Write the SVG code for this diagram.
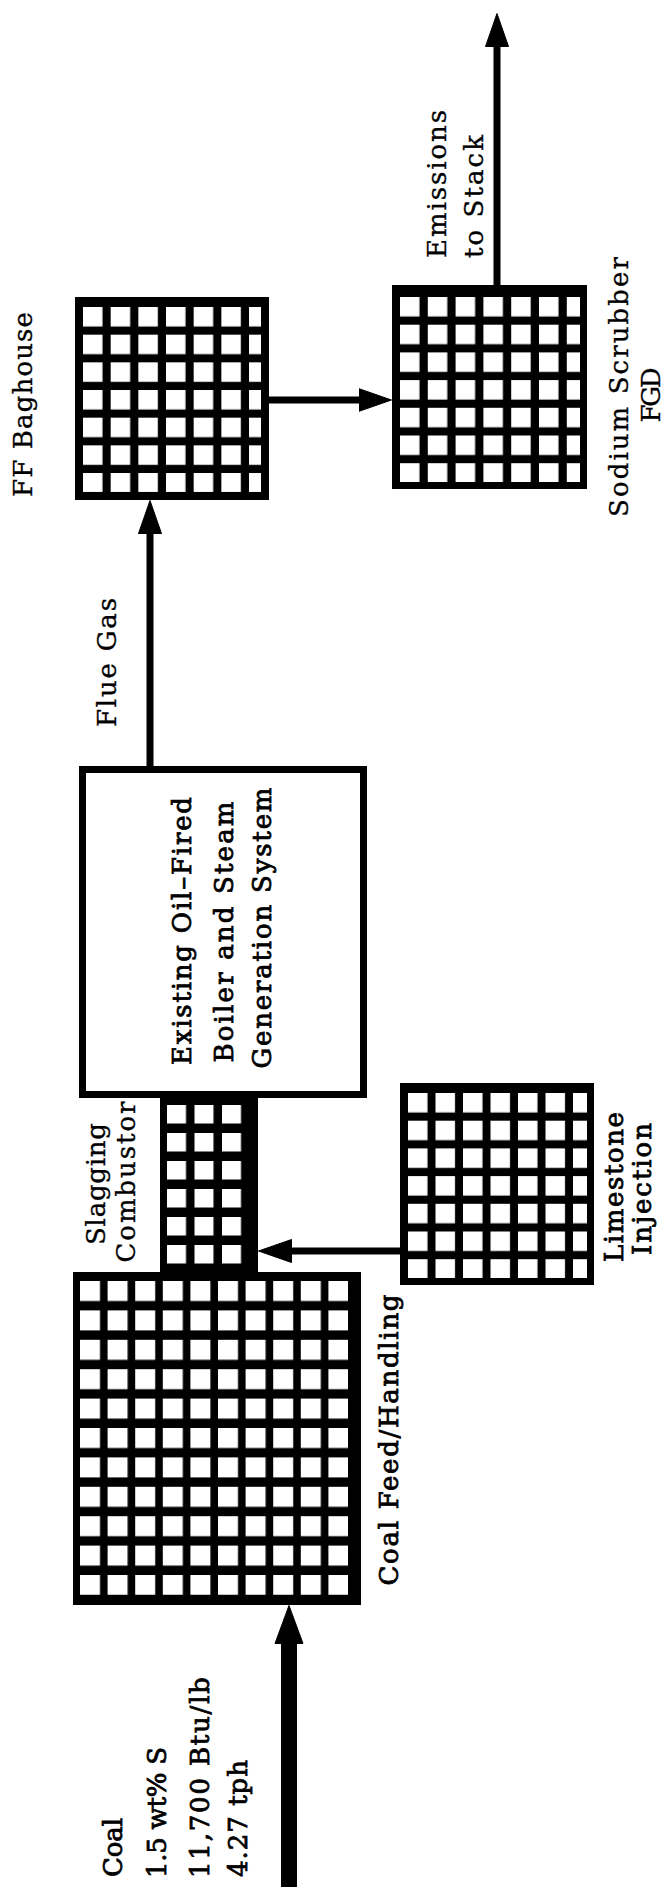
<svg xmlns="http://www.w3.org/2000/svg" width="664" height="1887" viewBox="0 0 664 1887">
<style>
.box{fill:#000}
.t{font-family:"DejaVu Serif","Liberation Serif",serif;font-size:26px;fill:#000;stroke:#000;stroke-width:0.35}
.h{stroke-width:0.8}
.ln{fill:none;stroke:#000;stroke-width:7}
</style>
<defs>
<marker id="ah" markerUnits="userSpaceOnUse" markerWidth="34" markerHeight="24" viewBox="0 0 34 24" refX="0.5" refY="12" orient="auto"><path d="M0,0.5 L33,12 L0,23.5 Z" fill="#000" stroke="#000" stroke-width="1" stroke-linejoin="round"/></marker>
<marker id="ahc" markerUnits="userSpaceOnUse" markerWidth="39" markerHeight="30" viewBox="0 0 39 30" refX="0.5" refY="15" orient="auto"><path d="M0,1 L38,15 L0,29 Z" fill="#000" stroke="#000" stroke-width="1" stroke-linejoin="round"/></marker>
<pattern id="pBag" patternUnits="userSpaceOnUse" x="83" y="307" width="27.67" height="27.67"><rect width="19.5" height="19.5" fill="#fff"/></pattern>
<pattern id="pScr" patternUnits="userSpaceOnUse" x="400" y="297" width="27.8" height="27.7"><rect width="19.5" height="19.5" fill="#fff"/></pattern>
<pattern id="pLim" patternUnits="userSpaceOnUse" x="408" y="1093" width="27.5" height="27.7"><rect width="19.5" height="19.5" fill="#fff"/></pattern>
<pattern id="pCmb" patternUnits="userSpaceOnUse" x="167" y="1105" width="27.5" height="28"><rect width="19" height="18.5" fill="#fff"/></pattern>
<pattern id="pCoal" patternUnits="userSpaceOnUse" x="80" y="1281" width="27.6" height="29.4"><rect width="20" height="20" fill="#fff"/></pattern>
</defs>
<rect width="664" height="1887" fill="#fff"/>

<g id="connectors">
<path class="ln" d="M150,766 V533" marker-end="url(#ah)"/>
<path class="ln" d="M269,400 H359" marker-end="url(#ah)"/>
<path class="ln" d="M400,1251 H291" marker-end="url(#ah)"/>
<path class="ln" d="M497,285 V46" marker-end="url(#ah)"/>
<path class="ln" d="M289,1887 V1643" style="stroke-width:16" marker-end="url(#ahc)"/>
</g>

<g id="ff-baghouse">
<rect class="box" x="75" y="297" width="194" height="203"/>
<rect x="83" y="307" width="178" height="185" fill="url(#pBag)"/>
<text class="t" transform="translate(32,497) rotate(-90)" textLength="185" lengthAdjust="spacing">FF Baghouse</text>
</g>

<g id="sodium-scrubber">
<rect class="box" x="392" y="285" width="195" height="204"/>
<rect x="400" y="297" width="180" height="185" fill="url(#pScr)"/>
<text class="t" transform="translate(628,387) rotate(-90)" text-anchor="middle" textLength="260" lengthAdjust="spacing">Sodium Scrubber</text>
<text class="t" transform="translate(660,395) rotate(-90)" text-anchor="middle" textLength="55" lengthAdjust="spacing">FGD</text>
</g>

<g id="emissions-label">
<text class="t" transform="translate(446,258) rotate(-90)" textLength="148" lengthAdjust="spacing">Emissions</text>
<text class="t" transform="translate(483,258) rotate(-90)" textLength="123" lengthAdjust="spacing">to Stack</text>
</g>

<g id="flue-gas-label">
<text class="t" transform="translate(116,727) rotate(-90)" textLength="129" lengthAdjust="spacing">Flue Gas</text>
</g>

<g id="boiler">
<rect x="82.5" y="769.5" width="281" height="325" fill="#fff" stroke="#000" stroke-width="7"/>
<text class="t h" transform="translate(191,931) rotate(-90)" text-anchor="middle" textLength="268" lengthAdjust="spacing">Existing Oil–Fired</text>
<text class="t h" transform="translate(233,932) rotate(-90)" text-anchor="middle" textLength="261" lengthAdjust="spacing">Boiler and Steam</text>
<text class="t h" transform="translate(271,928) rotate(-90)" text-anchor="middle" textLength="281" lengthAdjust="spacing">Generation System</text>
</g>

<g id="slagging-combustor">
<rect class="box" x="160" y="1095" width="98" height="177"/>
<rect x="167" y="1105" width="75" height="159" fill="url(#pCmb)"/>
<text class="t" transform="translate(105,1184) rotate(-90)" text-anchor="middle" textLength="122" lengthAdjust="spacing">Slagging</text>
<text class="t" transform="translate(135,1182) rotate(-90)" text-anchor="middle" textLength="161" lengthAdjust="spacing">Combustor</text>
</g>

<g id="limestone-injection">
<rect class="box" x="400" y="1083" width="194" height="202"/>
<rect x="408" y="1093" width="179" height="185" fill="url(#pLim)"/>
<text class="t h" transform="translate(623,1187) rotate(-90)" text-anchor="middle" textLength="150" lengthAdjust="spacing">Limestone</text>
<text class="t h" transform="translate(651,1189) rotate(-90)" text-anchor="middle" textLength="132" lengthAdjust="spacing">Injection</text>
</g>

<g id="coal-feed">
<rect class="box" x="73" y="1272" width="288" height="333"/>
<rect x="80" y="1281" width="268" height="314" fill="url(#pCoal)"/>
<text class="t h" transform="translate(398,1440) rotate(-90)" text-anchor="middle" textLength="291" lengthAdjust="spacing">Coal Feed/Handling</text>
</g>

<g id="coal-input-label">
<text class="t h" transform="translate(122,1877) rotate(-90)" textLength="59" lengthAdjust="spacing">Coal</text>
<text class="t h" transform="translate(166,1878) rotate(-90)" textLength="131" lengthAdjust="spacing">1.5 wt% S</text>
<text class="t h" transform="translate(209,1878) rotate(-90)" textLength="201" lengthAdjust="spacing">11,700 Btu/lb</text>
<text class="t h" transform="translate(247,1877) rotate(-90)" textLength="117" lengthAdjust="spacing">4.27 tph</text>
</g>
</svg>
